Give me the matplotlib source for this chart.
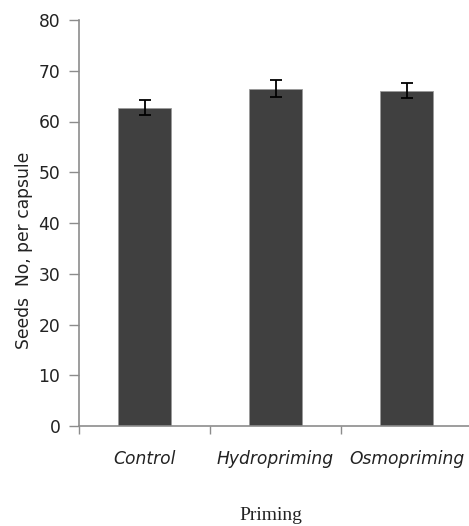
import matplotlib
matplotlib.use('Agg')
import matplotlib.pyplot as plt
import numpy as np

# Data
categories = ['Control', 'Hydropriming', 'Osmopriming']
seeds_mean = [62.7, 66.5, 66.1]
seeds_err = [1.5, 1.65, 1.55]
y_ticks = [0, 10, 20, 30, 40, 50, 60, 70, 80]

AXIS_GREY = '#8c8c8c'
BAR_COLOR = '#404040'

fig = plt.figure(figsize=(4.69, 5.26), dpi=100)
ax = fig.add_axes([79 / 469, 100 / 526, 393 / 469, 406 / 526])

x = np.arange(len(categories))
ax.bar(x, seeds_mean, width=0.41, color=BAR_COLOR, edgecolor='#9a9a9a',
       linewidth=0.6, zorder=2)
ax.errorbar(x, seeds_mean, yerr=seeds_err, fmt='none', ecolor='black',
            elinewidth=1.3, capsize=4, capthick=1.3, zorder=3)

ax.set_xlim(-0.5, 2.5)
ax.set_ylim(0, 80)
ax.set_yticks(y_ticks)
ax.set_yticklabels([str(v) for v in y_ticks], fontsize=12.3, color='#222222')

# category boundaries carry the tick marks, labels sit at bar centres
ax.set_xticks([-0.5, 0.5, 1.5])
ax.set_xticklabels([])
ax.set_xticks(x, minor=True)
ax.set_xticklabels(categories, minor=True, fontsize=12.3, style='italic',
                   color='#222222')
ax.tick_params(axis='x', which='minor', length=0, pad=17)
ax.tick_params(axis='x', which='major', length=6, width=1, color=AXIS_GREY)
ax.tick_params(axis='y', length=7, width=1, color=AXIS_GREY, pad=6.5)

for side in ['top', 'right']:
    ax.spines[side].set_visible(False)
for side in ['left', 'bottom']:
    ax.spines[side].set_color(AXIS_GREY)
    ax.spines[side].set_linewidth(1.2)

fig.text(24 / 469, 1 - 250 / 526, 'Seeds  No, per capsule', rotation=90,
         ha='center', va='center', fontsize=12.3, color='#222222')
fig.text(271 / 469, 1 - 515 / 526, 'Priming', ha='center', va='center',
         fontsize=14, family='Liberation Serif', color='#222222')

fig.savefig('out.png', dpi=100)
